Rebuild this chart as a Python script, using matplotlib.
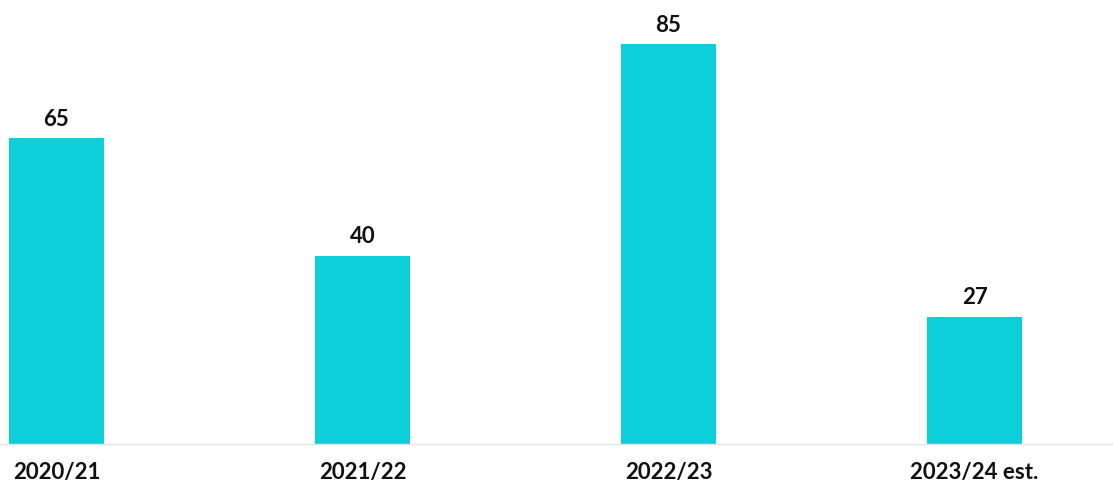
import matplotlib.pyplot as plt

plt.rcParams['font.family'] = ['Lato', 'DejaVu Sans']

seasons = ["2020/21", "2021/22", "2022/23", "2023/24 est."]
values = [65, 40, 85, 27]

bar_color = "#0dcfd9"

fig = plt.figure(figsize=(11.13, 4.87), dpi=100)
ax = fig.add_axes([0, 0.0893, 1, 0.9107])

x = range(len(seasons))
bars = ax.bar(x, values, width=0.31, color=bar_color)

for b, v in zip(bars, values):
    ax.text(b.get_x() + b.get_width() / 2, v + 1.8, str(v),
            ha="center", va="bottom", fontsize=16, fontweight="bold", color="#111111")

ax.set_xlim(-0.1846, 3.4526)
ax.set_ylim(0, 94.36)

for s in ["top", "right", "left"]:
    ax.spines[s].set_visible(False)
ax.spines["bottom"].set_color("#e4e4e4")
ax.spines["bottom"].set_linewidth(1)

ax.set_yticks([])
ax.set_xticks(list(x))
ax.set_xticklabels(seasons, fontsize=16, fontweight="bold", color="#111111")
ax.tick_params(axis="x", length=0, pad=13)

fig.savefig("out.png", dpi=100)
